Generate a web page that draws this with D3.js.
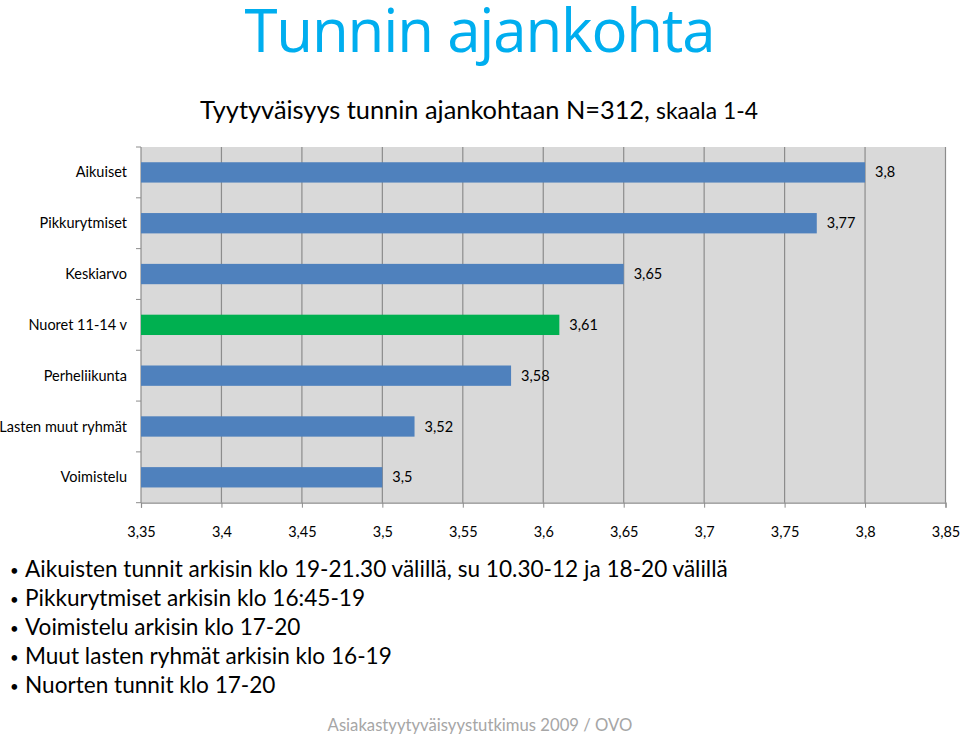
<!DOCTYPE html>
<html><head><meta charset="utf-8">
<script src="https://cdn.jsdelivr.net/npm/d3@7"></script>
<style>body{margin:0;background:#fff;} svg{display:block;font-family:Lato,"Open Sans",sans-serif;}</style>
</head><body>
<svg id="c" width="960" height="736"></svg>
<script>
const categories = ["Aikuiset","Pikkurytmiset","Keskiarvo","Nuoret 11-14 v","Perheliikunta","Lasten muut ryhmät","Voimistelu"];
const values = [3.8,3.77,3.65,3.61,3.58,3.52,3.5];
const highlighted = ["Nuoret 11-14 v"];
const tickValues = [3.35,3.4,3.45,3.5,3.55,3.6,3.65,3.7,3.75,3.8,3.85];
const title = "Tunnin ajankohta";
const subtitleMain = "Tyytyväisyys tunnin ajankohtaan N=312,";
const subtitleSmall = "skaala 1-4";
const bullets = [
  "Aikuisten tunnit arkisin klo 19-21.30 välillä, su 10.30-12 ja 18-20 välillä",
  "Pikkurytmiset arkisin klo 16:45-19",
  "Voimistelu arkisin klo 17-20",
  "Muut lasten ryhmät arkisin klo 16-19",
  "Nuorten tunnit klo 17-20"
];
const footer = "Asiakastyytyväisyystutkimus 2009 / OVO";

const svg = d3.select("#c");
const fmt = v => String(v).replace(".", ",");

function fit(sel, w){ // scale font-size so the text spans w pixels
  const node = sel.node();
  const fs = parseFloat(sel.attr("font-size"));
  const len = node.getComputedTextLength();
  sel.attr("font-size", (fs * w / len).toFixed(2));
}

// Title
svg.append("text").attr("x",480).attr("y",52).attr("text-anchor","middle")
  .attr("font-family","'Open Sans'").attr("font-size",60)
  .attr("textLength",471).attr("lengthAdjust","spacing")
  .attr("fill","#00aeef").text(title);

// Subtitle
const st1 = svg.append("text").attr("x",200).attr("y",119).attr("font-size",23).attr("fill","#000").text(subtitleMain);
fit(st1, 450);
const st2 = svg.append("text").attr("x",656).attr("y",119).attr("font-size",18).attr("fill","#000").text(subtitleSmall);
fit(st2, 102);

// Chart
const x = d3.scaleLinear().domain([3.35,3.85]).range([141,945.5]);
const y = d3.scaleBand().domain(categories).range([147,502.7]).paddingInner(0.6).paddingOuter(0.3);

svg.append("rect").attr("x",x(3.35)).attr("y",147).attr("width",x(3.85)-x(3.35)).attr("height",502.7-147).attr("fill","#d9d9d9");

svg.append("g").selectAll("line").data(tickValues.slice(1)).join("line")
  .attr("x1",d=>x(d)).attr("x2",d=>x(d)).attr("y1",147).attr("y2",502.7)
  .attr("stroke","#8c8c8c").attr("stroke-width",1.2);

const xAxis = svg.append("g").attr("transform","translate(0,502.7)")
  .call(d3.axisBottom(x).tickValues(tickValues).tickFormat(fmt).tickSize(5).tickPadding(19));
xAxis.select(".domain").attr("stroke","#8c8c8c").attr("stroke-width",1.2);
xAxis.selectAll(".tick line").attr("stroke","#8c8c8c");
xAxis.selectAll("text").attr("font-size",14.5).attr("fill","#000").attr("font-family","Lato");

// y axis with ticks between categories
const yBounds = d3.range(categories.length+1).map(i => 147 + i*(502.7-147)/categories.length);
svg.append("line").attr("x1",141).attr("x2",141).attr("y1",147).attr("y2",502.7).attr("stroke","#8c8c8c").attr("stroke-width",1.2);
svg.append("g").selectAll("line").data(yBounds).join("line")
  .attr("x1",136).attr("x2",141).attr("y1",d=>d).attr("y2",d=>d).attr("stroke","#8c8c8c");

svg.append("g").selectAll("text").data(categories).join("text")
  .attr("x",127).attr("y",d=>y(d)+y.bandwidth()/2).attr("dy","0.35em")
  .attr("text-anchor","end").attr("font-size",14.5).attr("fill","#000").text(d=>d);

svg.append("g").selectAll("rect").data(categories).join("rect")
  .attr("x",x(3.35)).attr("y",d=>y(d)).attr("height",y.bandwidth())
  .attr("width",(d,i)=>x(values[i])-x(3.35))
  .attr("fill",d=>highlighted.includes(d)?"#00b050":"#4f81bd");

svg.append("g").selectAll("text").data(categories).join("text")
  .attr("x",(d,i)=>x(values[i])+10).attr("y",d=>y(d)+y.bandwidth()/2).attr("dy","0.35em")
  .attr("font-size",14.5).attr("fill","#000").text((d,i)=>fmt(values[i]));

// Bullets
const bg = svg.append("g");
let bfs = 21;
bullets.forEach((b,i)=>{
  const yy = 577 + i*29;
  bg.append("text").attr("x",10).attr("y",yy-1).attr("font-size",15).text("•");
  const tx = bg.append("text").attr("class","bt").attr("x",25).attr("y",yy).attr("font-size",bfs).attr("fill","#000").text(b);
  if(i===0){ fit(tx, 703); bfs = tx.attr("font-size"); }
});

// Footer
const ft = svg.append("text").attr("x",480).attr("y",731).attr("text-anchor","middle")
  .attr("font-size",17).attr("fill","#a6a6a6").text(footer);
fit(ft, 305);
</script>
</body></html>
